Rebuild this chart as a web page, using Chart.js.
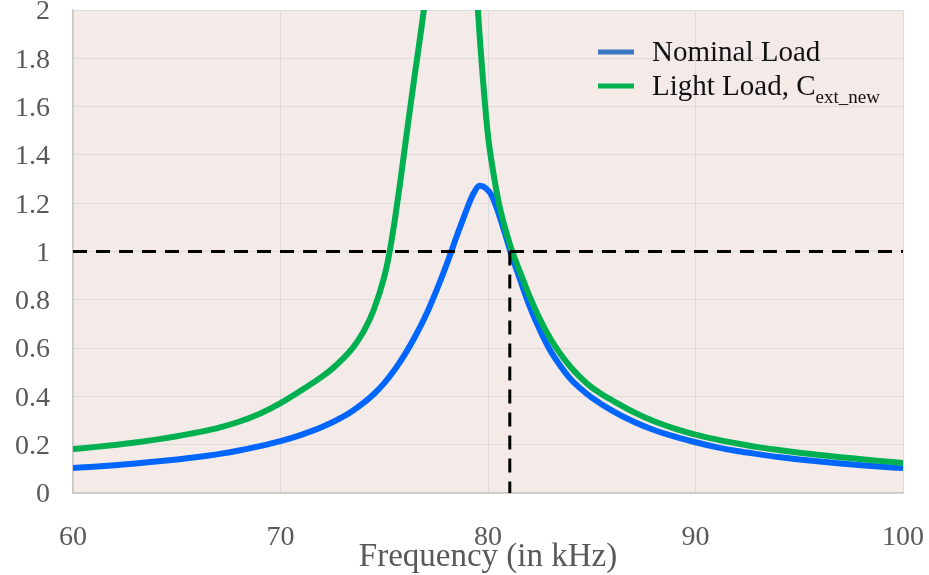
<!DOCTYPE html>
<html>
<head>
<meta charset="utf-8">
<script src="https://cdn.jsdelivr.net/npm/chart.js@4/dist/chart.umd.min.js"></script>
<style>
  html, body { margin: 0; padding: 0; background: #ffffff; }
  #wrap { width: 929px; height: 575px; }
</style>
</head>
<body>
<div id="wrap"><canvas id="c" width="929" height="575"></canvas></div>
<script>
// Gain vs. frequency for the two load cases
const nominalFreq = [60, 61, 62, 63, 64, 65, 66, 67, 68, 69, 70, 71, 72, 73, 73.5, 74, 74.5, 75, 75.5, 76, 76.5, 77, 77.5, 78, 78.5, 79, 79.3, 79.6, 79.9, 80.2, 80.5, 80.8, 81.1, 81.5, 82, 82.5, 83, 83.5, 84, 84.5, 85, 86, 87, 88, 89, 90, 91, 92, 93, 94, 95, 96, 97, 98, 99, 100];
const nominalGain = [0.104, 0.109, 0.115, 0.122, 0.130, 0.139, 0.149, 0.161, 0.176, 0.194, 0.215, 0.241, 0.273, 0.315, 0.342, 0.373, 0.41, 0.455, 0.51, 0.575, 0.65, 0.735, 0.835, 0.945, 1.065, 1.18, 1.24, 1.272, 1.262, 1.228, 1.16, 1.08, 0.995, 0.895, 0.775, 0.675, 0.59, 0.525, 0.47, 0.43, 0.395, 0.34, 0.296, 0.261, 0.233, 0.21, 0.19, 0.174, 0.161, 0.149, 0.139, 0.13, 0.122, 0.115, 0.109, 0.103];

const lightFreq = [60, 61, 62, 63, 64, 65, 66, 67, 68, 69, 70, 71, 72, 72.5, 73, 73.5, 74, 74.5, 75, 75.25, 75.5, 75.75, 76, 76.25, 76.5, 76.75, 77, 77.5, 78, 78.5, 79, 79.5, 79.75, 80, 80.25, 80.5, 80.75, 81, 81.25, 81.5, 82, 82.5, 83, 83.5, 84, 84.5, 85, 85.5, 86, 87, 88, 89, 90, 91, 92, 93, 94, 95, 96, 97, 98, 99, 100];
const lightGain = [0.182, 0.19, 0.199, 0.209, 0.221, 0.235, 0.251, 0.27, 0.295, 0.328, 0.372, 0.425, 0.482, 0.515, 0.555, 0.603, 0.668, 0.76, 0.895, 0.995, 1.125, 1.275, 1.435, 1.595, 1.75, 1.9, 2.07, 2.6, 3.4, 3.6, 2.8, 2.02, 1.72, 1.48, 1.33, 1.21, 1.12, 1.045, 0.98, 0.925, 0.815, 0.72, 0.64, 0.575, 0.52, 0.475, 0.437, 0.408, 0.383, 0.336, 0.297, 0.267, 0.242, 0.222, 0.205, 0.19, 0.178, 0.167, 0.157, 0.148, 0.14, 0.132, 0.124];

// Unity-gain reference and the operating frequency marker
const unityFreq = [60, 100];
const unityGain = [1, 1];
const markerFreq = [81.05, 81.05];
const markerGain = [1, 0];

const xTicks = [60, 70, 80, 90, 100];
const xTickLabels = ['60', '70', '80', '90', '100'];
const yTicks = [0, 0.2, 0.4, 0.6, 0.8, 1, 1.2, 1.4, 1.6, 1.8, 2];
const yTickLabels = ['0', '0.2', '0.4', '0.6', '0.8', '1', '1.2', '1.4', '1.6', '1.8', '2'];

const seriesNames = ['Nominal Load', 'Light Load, C'];
const lightSubscript = 'ext_new';

const SERIF = "'Liberation Serif', 'Times New Roman', serif";
const BLUE = '#0066FF';
const GREEN = '#00B050';

function pts(xs, ys) { return xs.map((x, i) => ({ x: x, y: ys[i] })); }

const plotBackground = {
  id: 'plotBackground',
  beforeDraw(chart) {
    const a = chart.chartArea, ctx = chart.ctx;
    ctx.save();
    ctx.fillStyle = '#F4EBE9';
    ctx.fillRect(a.left, a.top, a.right - a.left, a.bottom - a.top);
    ctx.restore();
  }
};

// Legend drawn by hand so the subscript can be rendered
const serifLegend = {
  id: 'serifLegend',
  afterDraw(chart) {
    const a = chart.chartArea, ctx = chart.ctx;
    const x0 = a.right - 305;
    const rows = [
      { y: 51, color: '#3A78C4', text: seriesNames[0], sub: '' },
      { y: 85, color: GREEN, text: seriesNames[1], sub: lightSubscript }
    ];
    ctx.save();
    rows.forEach(r => {
      const base = a.top + r.y;
      ctx.strokeStyle = r.color;
      ctx.lineWidth = 5;
      ctx.lineCap = 'butt';
      ctx.beginPath();
      ctx.moveTo(x0, base - 9);
      ctx.lineTo(x0 + 36, base - 9);
      ctx.stroke();
      ctx.fillStyle = '#111111';
      ctx.textBaseline = 'alphabetic';
      ctx.textAlign = 'left';
      ctx.font = '29px ' + SERIF;
      const tx = x0 + 54;
      ctx.fillText(r.text, tx, base);
      if (r.sub) {
        const w = ctx.measureText(r.text).width;
        ctx.font = '19px ' + SERIF;
        ctx.fillText(r.sub, tx + w, base + 8);
      }
    });
    ctx.restore();
  }
};

new Chart(document.getElementById('c'), {
  type: 'line',
  data: {
    datasets: [
      { label: 'unity', data: pts(unityFreq, unityGain), borderColor: '#000000', borderWidth: 3, borderDash: [14, 9], pointRadius: 0, order: 0, clip: 0 },
      { label: 'marker', data: pts(markerFreq, markerGain), borderColor: '#000000', borderWidth: 3, borderDash: [14, 9], pointRadius: 0, order: 0, clip: 0 },
      { label: seriesNames[1], data: pts(lightFreq, lightGain), borderColor: GREEN, borderWidth: 6, pointRadius: 0, cubicInterpolationMode: 'monotone', order: 1, clip: 0 },
      { label: seriesNames[0], data: pts(nominalFreq, nominalGain), borderColor: BLUE, borderWidth: 6, pointRadius: 0, cubicInterpolationMode: 'monotone', order: 2, clip: 0 }
    ]
  },
  options: {
    responsive: false,
    animation: false,
    devicePixelRatio: 1,
    layout: { padding: { top: 10, right: 26, bottom: 0, left: 0 } },
    plugins: { legend: { display: false }, tooltip: { enabled: false } },
    scales: {
      x: {
        type: 'linear',
        min: 60, max: 100,
        afterBuildTicks(scale) { scale.ticks = xTicks.map(v => ({ value: v })); },
        afterFit(scale) { scale.height = 82; scale.paddingLeft = 0; scale.paddingRight = 0; },
        grid: { color: '#DCDCDC', lineWidth: 1, drawTicks: false },
        border: { color: '#C8C8C8', width: 1.5 },
        ticks: {
          padding: 28,
          color: '#595959',
          font: { family: SERIF, size: 28 },
          maxRotation: 0,
          callback(v) { const i = xTicks.indexOf(v); return i >= 0 ? xTickLabels[i] : ''; }
        },
        title: {
          display: true,
          text: 'Frequency (in kHz)',
          color: '#595959',
          font: { family: SERIF, size: 33 },
          padding: { top: 0, bottom: -2 }
        }
      },
      y: {
        min: 0, max: 2,
        afterBuildTicks(scale) { scale.ticks = yTicks.map(v => ({ value: v })); },
        afterFit(scale) { scale.width = 73; scale.paddingTop = 0; scale.paddingBottom = 0; },
        grid: { color: '#DCDCDC', lineWidth: 1, drawTicks: false },
        border: { color: '#C8C8C8', width: 1.5 },
        ticks: {
          padding: 23,
          labelOffset: 2,
          color: '#595959',
          font: { family: SERIF, size: 28 },
          callback(v) { const i = yTicks.findIndex(t => Math.abs(t - v) < 1e-9); return i >= 0 ? yTickLabels[i] : ''; }
        }
      }
    }
  },
  plugins: [plotBackground, serifLegend]
});
</script>
</body>
</html>
